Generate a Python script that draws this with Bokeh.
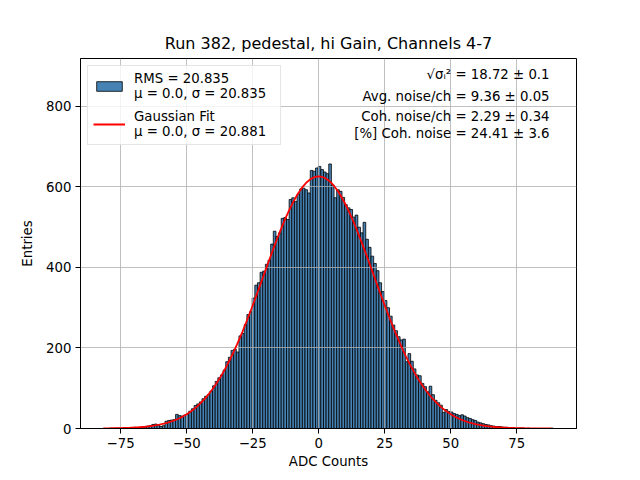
import numpy as np
from bokeh.plotting import figure
from bokeh.models import Range1d, Legend, LegendItem, Label
from bokeh.embed import file_html
from bokeh.resources import INLINE

# ---------------- data ----------------
TITLE = "Run 382, pedestal, hi Gain, Channels 4-7"
X_LABEL = "ADC Counts"
Y_LABEL = "Entries"

BIN_START = -81.2   # left edge of first bin
BIN_WIDTH = 1.0
COUNTS = [
    0, 0, 1, 0, 1, 1, 1, 1, 2, 1,            # -81 .. -72
    2, 3, 2, 3, 4, 4, 6, 7, 10, 11,          # -71 .. -62
    9, 5, 7, 18, 20, 21, 22, 35, 32, 31,     # -61 .. -52
    33, 36, 43, 49, 57, 61, 66, 74, 80, 84,  # -51 .. -42
    93, 106, 117, 126, 133, 145, 166, 177, 194, 197,   # -41 .. -32
    190, 230, 236, 258, 283, 290, 324, 356, 362, 388,  # -31 .. -22
    391, 408, 418, 458, 490, 477, 486, 522, 524, 519,  # -21 .. -12
    569, 573, 564, 582, 595, 597, 593, 585, 641, 639,  # -11 .. -2
    647, 651, 643, 637, 633, 657, 605, 573, 593, 589,  # -1 .. 8
    574, 556, 548, 544, 525, 530, 500, 486, 512, 470,  # 9 .. 18
    450, 428, 410, 392, 362, 340, 318, 300, 279, 257,  # 19 .. 28
    243, 228, 220, 222, 166, 186, 167, 148, 133, 131,  # 29 .. 38
    112, 104, 91, 105, 84, 70, 64, 58, 40, 47,         # 39 .. 48
    42, 41, 37, 35, 32, 34, 31, 27, 25, 22,            # 49 .. 58
    20, 16, 14, 12, 10, 9, 7, 6, 5, 5,                 # 59 .. 68
    4, 3, 3, 2, 2, 1, 1, 1, 1, 0,                      # 69 .. 78
    1, 0, 0, 0, 0, 0, 0, 0, 0, 1,                      # 79 .. 88
]

FIT_MU = 0.0
FIT_SIGMA = 20.881
FIT_AMPLITUDE = 626.0
FIT_X_MIN = -81.6
FIT_X_MAX = 88.0

X_TICKS = [-75, -50, -25, 0, 25, 50, 75]
X_TICK_LABELS = ["\u221275", "\u221250", "\u221225", "0", "25", "50", "75"]
Y_TICKS = [0, 200, 400, 600, 800]

LEGEND_HIST = "RMS = 20.835\n\u03bc = 0.0, \u03c3 = 20.835"
LEGEND_FIT = "Gaussian Fit\n\u03bc = 0.0, \u03c3 = 20.881"
INFO_LINES = [
    "\u221a\u03c3\u1d62\u00b2 = 18.72 \u00b1 0.1",
    "Avg. noise/ch = 9.36 \u00b1 0.05",
    "Coh. noise/ch = 2.29 \u00b1 0.34",
    "[%] Coh. noise = 24.41 \u00b1 3.6",
]

FONT = "DejaVu Sans"

# ---------------- figure ----------------
p = figure(width=624, height=472,
           x_range=Range1d(-90.2, 97.6), y_range=Range1d(0, 919),
           output_backend="svg", toolbar_location=None,
           min_border_left=80, min_border_right=48,
           min_border_top=58, min_border_bottom=44)

p.title.text = TITLE
p.title.align = "center"
p.title.text_font = FONT
p.title.text_font_size = "16px"
p.title.text_font_style = "normal"
p.title.text_color = "black"
p.title.standoff = 11

counts = np.array(COUNTS, dtype=float)
lefts = BIN_START + BIN_WIDTH * np.arange(len(counts))
rights = lefts + BIN_WIDTH

hist_r = p.quad(left=lefts, right=rights, top=counts, bottom=0,
                fill_color="#4682b4", line_color="black", line_width=0.8,
                level="image")

xs = np.linspace(FIT_X_MIN, FIT_X_MAX, 600)
ys = FIT_AMPLITUDE * np.exp(-0.5 * ((xs - FIT_MU) / FIT_SIGMA) ** 2)
fit_r = p.line(xs, ys, line_color="red", line_width=1.8)

# axes
p.xaxis.ticker = X_TICKS
p.xaxis.major_label_overrides = dict(zip(X_TICKS, X_TICK_LABELS))
p.yaxis.ticker = Y_TICKS
for ax in (p.xaxis, p.yaxis):
    ax.major_label_text_font = FONT
    ax.major_label_text_font_size = "13.3px"
    ax.major_label_text_color = "black"
    ax.axis_label_text_font = FONT
    ax.axis_label_text_font_size = "13.3px"
    ax.axis_label_text_font_style = "normal"
    ax.axis_label_text_color = "black"
    ax.minor_tick_line_color = None
    ax.major_tick_in = 0
    ax.major_tick_out = 5
    ax.major_tick_line_color = "black"
    ax.axis_line_color = "black"
    ax.major_label_standoff = 4
p.xaxis.axis_label = X_LABEL
p.yaxis.axis_label = Y_LABEL
p.xaxis.axis_label_standoff = 3
p.yaxis.axis_label_standoff = 8

p.outline_line_color = "black"
p.outline_line_width = 1
p.grid.grid_line_color = "#b0b0b0"
p.grid.grid_line_width = 0.8
p.background_fill_color = "white"
p.border_fill_color = "white"

legend = Legend(items=[LegendItem(label=LEGEND_HIST, renderers=[hist_r]),
                       LegendItem(label=LEGEND_FIT, renderers=[fit_r])],
                location="top_left", margin=7, padding=5, spacing=8,
                glyph_width=32, glyph_height=12, label_standoff=9,
                label_width=141,
                label_text_font=FONT, label_text_font_size="13.3px",
                label_text_color="black",
                label_text_line_height=1.5,
                border_line_color="#cccccc", border_line_width=1,
                background_fill_alpha=0.8)
p.add_layout(legend, "center")

INFO_Y = [879, 825, 775, 732]
for txt, yy in zip(INFO_LINES, INFO_Y):
    p.add_layout(Label(x=87.4, y=yy, text=txt, text_align="right",
                       text_baseline="middle", text_font=FONT,
                       text_font_size="13.3px", text_color="black"))

open("out.html", "w").write(file_html(p, INLINE))
